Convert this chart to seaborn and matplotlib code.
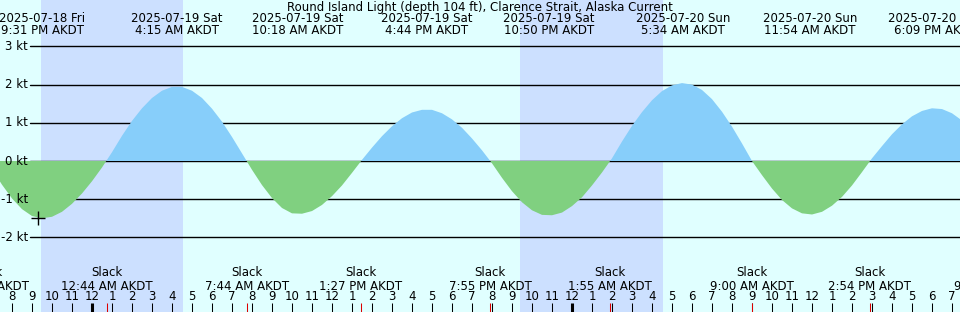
import numpy as np
import pandas as pd
import matplotlib
matplotlib.use("Agg")
import matplotlib.pyplot as plt
import seaborn as sns

title = "Round Island Light (depth 104 ft), Clarence Strait, Alaska Current"

# current speed (kt) every 30 minutes, from 2025-07-18 19:00 AKDT
speed = [-0.21, -0.62, -0.98, -1.26, -1.44, -1.50, -1.46, -1.33, -1.12, -0.85,
         -0.53, -0.17, 0.23, 0.66, 1.05, 1.38, 1.65, 1.84, 1.94, 1.94,
         1.84, 1.65, 1.37, 1.03, 0.63, 0.20, -0.23, -0.63, -0.97, -1.23,
         -1.37, -1.38, -1.31, -1.15, -0.92, -0.64, -0.31, 0.03, 0.35, 0.65,
         0.91, 1.12, 1.27, 1.34, 1.34, 1.25, 1.09, 0.87, 0.59, 0.28,
         -0.06, -0.44, -0.79, -1.08, -1.29, -1.41, -1.42, -1.35, -1.18, -0.95,
         -0.64, -0.30, 0.07, 0.51, 0.92, 1.28, 1.59, 1.83, 1.98, 2.04,
         2.00, 1.86, 1.62, 1.29, 0.90, 0.46, 0.00, -0.37, -0.72, -1.02,
         -1.24, -1.37, -1.40, -1.33, -1.17, -0.94, -0.64, -0.29, 0.07, 0.39,
         0.70, 0.96, 1.17, 1.31, 1.38, 1.36, 1.25, 1.06, 0.80]
start = "2025-07-18 19:00"

# max flood / max ebb times (top labels)
peak_times = ["2025-07-18 21:31", "2025-07-19 04:15", "2025-07-19 10:18",
              "2025-07-19 16:44", "2025-07-19 22:50", "2025-07-20 05:34",
              "2025-07-20 11:54", "2025-07-20 18:09"]
# slack water times (bottom labels)
slack_times = ["2025-07-18 18:45", "2025-07-19 00:44", "2025-07-19 07:44",
               "2025-07-19 13:27", "2025-07-19 19:55", "2025-07-20 01:55",
               "2025-07-20 09:00", "2025-07-20 14:54", "2025-07-20 21:12"]
sunsets = ["2025-07-18 21:27", "2025-07-19 21:24"]
sunrises = ["2025-07-19 04:33", "2025-07-20 04:33"]
now_time = "2025-07-18 21:18"
now_speed = -1.5
kt_ticks = [3, 2, 1, 0, -1, -2]

day_col = "#E0FFFF"
night_col = "#CCE0FF"
flood_col = "#87CEFA"
ebb_col = "#80D080"

base = pd.Timestamp("2025-07-19 00:00")


def hrs(t):
    return (pd.to_datetime(t) - base) / pd.Timedelta(hours=1)


sns.set_theme(style="white")
plt.rcParams["font.family"] = ["DejaVu Sans"]
plt.rcParams["text.color"] = "black"

df = pd.DataFrame({"time": pd.date_range(start, periods=len(speed), freq="30min"),
                   "speed": speed})
df["h"] = hrs(df["time"])

fig = plt.figure(figsize=(9.6, 3.12), dpi=100)
ax = fig.add_axes([0, 0, 1, 1])
ax.set_facecolor(day_col)
ax.set_xlim(-4.6, 43.4)
ax.set_ylim(-3.953, 4.215)
ax.set_axis_off()
fig.patch.set_facecolor(day_col)

for a, b in zip(sunsets, sunrises):
    ax.axvspan(hrs(a), hrs(b), color=night_col, lw=0, zorder=0)

for k in kt_ticks:
    ax.axhline(k, xmin=30 / 960, xmax=1, color="black", lw=1.0, zorder=1)
    ax.text(-3.2, k, f"{k} kt", ha="right", va="center", fontsize=8.5, zorder=5)

h = df["h"].to_numpy()
v = df["speed"].to_numpy()
ax.fill_between(h, 0, v, where=v >= 0, interpolate=True, color=flood_col, lw=0, zorder=2)
ax.fill_between(h, 0, v, where=v <= 0, interpolate=True, color=ebb_col, lw=0, zorder=2)

sns.scatterplot(x=[hrs(now_time)], y=[now_speed], marker="+", s=90, color="black",
                linewidth=1, ax=ax, zorder=4, legend=False)

fig.text(0.5, 1 - 7 / 312, title, ha="center", va="center", fontsize=8.5)
tx = ax.get_xaxis_transform()
for t in peak_times:
    ts = pd.Timestamp(t)
    x = hrs(t)
    ax.text(x, 1 - 18 / 312, ts.strftime("%Y-%m-%d %a"), transform=tx,
            ha="center", va="center", fontsize=8.5)
    ax.text(x, 1 - 31 / 312, ts.strftime("%-I:%M %p AKDT"), transform=tx,
            ha="center", va="center", fontsize=8.5)

for t in slack_times:
    ts = pd.Timestamp(t)
    x = hrs(t)
    ax.text(x, 39 / 312, "Slack", transform=tx, ha="center", va="center", fontsize=8.5)
    ax.text(x, 26 / 312, ts.strftime("%-I:%M %p AKDT"), transform=tx,
            ha="center", va="center", fontsize=8.5)

hour_marks = pd.date_range("2025-07-18 20:00", "2025-07-20 19:00", freq="h")
for ts in hour_marks:
    x = hrs(ts)
    lw = 2.2 if ts.hour == 0 else 0.75
    ax.vlines(x, 0, 9 / 312, transform=tx, color="black", lw=lw, zorder=5)
    ax.text(x, 15 / 312, ts.strftime("%-I"), transform=tx, ha="center",
            va="center", fontsize=8.5)
for t in slack_times:
    ax.vlines(hrs(t), 0, 9 / 312, transform=tx, color="#DD0000", lw=0.75, zorder=5)

fig.savefig("out.png", dpi=100, facecolor=day_col)
